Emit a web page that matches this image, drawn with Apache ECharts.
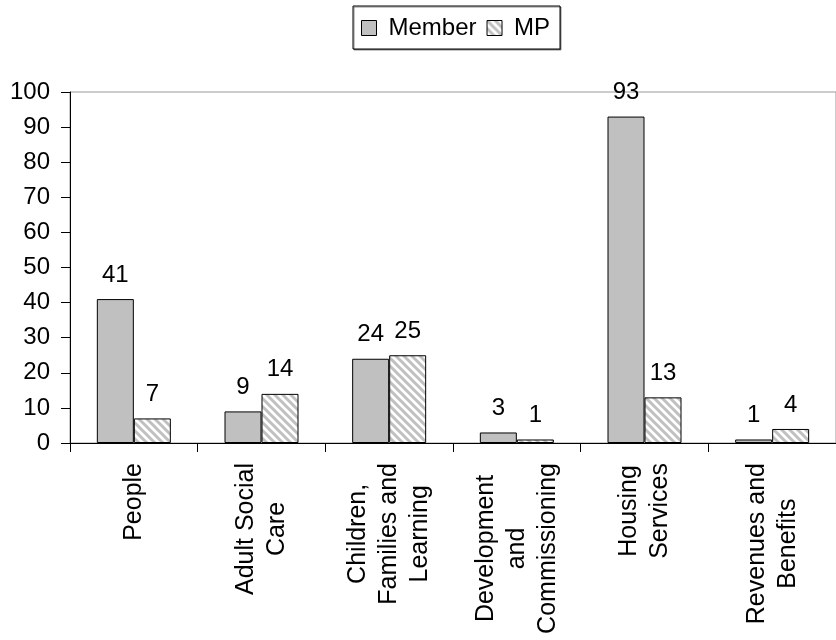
<!DOCTYPE html>
<html>
<head>
<meta charset="utf-8">
<script src="https://cdn.jsdelivr.net/npm/echarts@6/dist/echarts.min.js"></script>
<style>
  html, body { margin: 0; padding: 0; background: #fff; }
  #barChart { width: 836px; height: 640px; }
</style>
</head>
<body>
<div id="barChart"></div>
<script>
// 数据
const categories = [
  'People',
  'Adult Social\nCare',
  'Children,\nFamilies and\nLearning',
  'Development\nand\nCommissioning',
  'Housing\nServices',
  'Revenues and\nBenefits'
]
const memberValues = [41, 9, 24, 3, 93, 1]
const mpValues = [7, 14, 25, 1, 13, 4]
const seriesNames = ['Member', 'MP']

const fontFamily = "'Liberation Sans', Arial, sans-serif"

// 斜线填充
function makeHatch() {
  const c = document.createElement('canvas')
  c.width = 8
  c.height = 8
  const g = c.getContext('2d')
  g.fillStyle = '#ffffff'
  g.fillRect(0, 0, 8, 8)
  g.strokeStyle = '#c0c0c0'
  g.lineWidth = 3
  g.beginPath()
  g.moveTo(-2, -2); g.lineTo(10, 10)
  g.moveTo(-2, 6); g.lineTo(2, 10)
  g.moveTo(6, -2); g.lineTo(10, 2)
  g.stroke()
  return c
}

const barChart = echarts.init(document.getElementById('barChart'))

const labelStyle = {
  show: true,
  position: 'top',
  distance: 12,
  color: '#000',
  fontSize: 24,
  fontFamily: fontFamily
}

let option = {
  animation: false,
  textStyle: { fontFamily: fontFamily },
  legend: {
    data: seriesNames,
    icon: 'rect',
    left: 353,
    top: 6,
    padding: [10, 10, 9, 8],
    itemWidth: 15,
    itemHeight: 15,
    itemGap: 10,
    borderColor: '#000',
    borderWidth: 1,
    backgroundColor: '#fff',
    shadowColor: 'rgba(0,0,0,0.45)',
    shadowOffsetX: 1,
    shadowOffsetY: 1,
    shadowBlur: 0,
    itemStyle: { borderColor: '#000', borderWidth: 1 },
    textStyle: {
      color: '#000',
      fontSize: 24,
      fontFamily: fontFamily,
      padding: [0, 0, 0, 7]
    }
  },
  grid: {
    left: 70,
    top: 92,
    width: 774,
    height: 351,
    show: true,
    borderColor: '#999',
    borderWidth: 1,
    backgroundColor: 'transparent'
  },
  xAxis: {
    type: 'category',
    data: categories,
    axisLine: { lineStyle: { color: '#000', width: 1 } },
    axisTick: { show: true, length: 9, lineStyle: { color: '#000' } },
    axisLabel: {
      interval: 0,
      rotate: 90,
      margin: 20,
      color: '#000',
      fontSize: 25,
      fontFamily: fontFamily,
      lineHeight: 31,
      formatter: function (value) {
        return value.split('\n').map(function (s) { return '{c|' + s + '}' }).join('\n')
      },
      rich: {
        c: {
          align: 'center',
          fontSize: 25,
          lineHeight: 31,
          fontFamily: fontFamily,
          color: '#000'
        }
      }
    }
  },
  yAxis: {
    type: 'value',
    min: 0,
    max: 100,
    interval: 10,
    axisLine: { show: true, lineStyle: { color: '#000', width: 1 } },
    axisTick: { show: true, length: 9, lineStyle: { color: '#000' } },
    splitLine: { show: false },
    axisLabel: {
      margin: 20,
      color: '#000',
      fontSize: 24,
      fontFamily: fontFamily
    }
  },
  series: [
    {
      name: seriesNames[0],
      type: 'bar',
      data: memberValues,
      barWidth: 37,
      barGap: '0%',
      itemStyle: { color: '#c0c0c0', borderColor: '#000', borderWidth: 1 },
      label: labelStyle
    },
    {
      name: seriesNames[1],
      type: 'bar',
      data: mpValues,
      barWidth: 37,
      barGap: '0%',
      itemStyle: {
        color: { image: makeHatch(), repeat: 'repeat' },
        borderColor: '#000',
        borderWidth: 1
      },
      label: labelStyle
    }
  ]
}

barChart.setOption(option)
</script>
</body>
</html>
